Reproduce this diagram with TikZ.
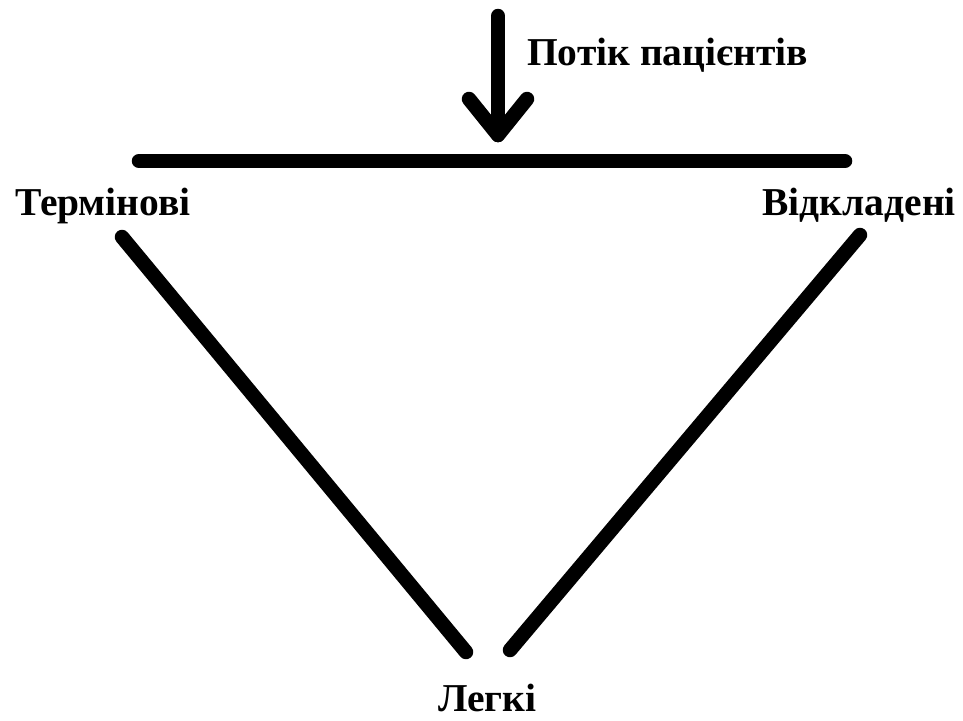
\documentclass[tikz,border=0pt]{standalone}
\usepackage{fontspec}
\setmainfont{Liberation Serif}
\begin{document}
\begin{tikzpicture}[x=1pt,y=-1pt,
  thick line/.style={line width=14.5pt,line cap=round,line join=round},
  lbl/.style={font=\fontsize{39.5}{44}\selectfont\bfseries,inner sep=0pt,anchor=base west}]
\useasboundingbox[fill=white] (0,0) rectangle (963,720);
% arrow
\coordinate (atop) at (498,16);
\coordinate (atip) at (498,135);
\coordinate (al) at (469,99);
\coordinate (ar) at (527,99);
\draw[thick line] (atop) -- (atip);
\draw[thick line] (al) -- (atip) -- (ar);
\node[lbl] (flow) at (527,65) {Потік пацієнтів};
% horizontal bar
\coordinate (hl) at (139,161);
\coordinate (hr) at (845,161);
\draw[thick line] (hl) -- (hr);
% labels
\node[lbl] (urg) at (15,215) {Термінові};
\node[lbl,anchor=base east] (del) at (956,215) {Відкладені};
\node[lbl] (lig) at (438,711) {Легкі};
% diagonals
\coordinate (l1) at (122,237);
\coordinate (l2) at (466,652);
\coordinate (r1) at (860,235);
\coordinate (r2) at (510,650);
\draw[thick line] (l1) -- (l2);
\draw[thick line] (r1) -- (r2);
\end{tikzpicture}
\end{document}
